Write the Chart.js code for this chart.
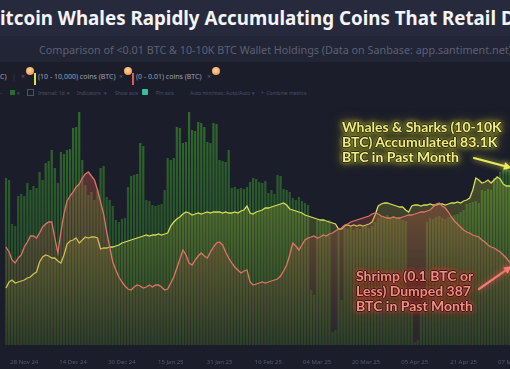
<!DOCTYPE html>
<html><head><meta charset="utf-8">
<script src="https://cdn.jsdelivr.net/npm/chart.js@4"></script>
<style>
html,body{margin:0;padding:0;}
body{width:510px;height:369px;overflow:hidden;position:relative;background:#1b1d2a;font-family:'Noto Sans',sans-serif;}
#band1{position:absolute;left:0;top:0;width:510px;height:36px;background:#272a3d;}
#band2{position:absolute;left:0;top:36px;width:510px;height:26px;background:#222536;}
#title{position:absolute;top:3px;left:0;white-space:nowrap;color:#f4f4f6;font-weight:700;font-size:20px;line-height:30px;}
#subtitle{position:absolute;top:42px;left:39px;white-space:nowrap;color:#5c6174;font-size:11px;line-height:16px;}
.tb{position:absolute;white-space:nowrap;font-size:7px;line-height:9px;color:#9da1b0;}
.tb2{position:absolute;white-space:nowrap;font-size:5px;line-height:8px;color:#4c5163;}
.coin{position:absolute;width:8px;height:8px;border-radius:50%;background:radial-gradient(circle at 45% 40%,#fbd6a4 0%,#f0a860 60%,#d98a40 100%);}
#wrap{position:absolute;left:0;top:100px;width:540px;height:269px;}
.ann{position:absolute;white-space:nowrap;font-family:'Lato',sans-serif;font-weight:700;font-size:14px;line-height:15px;}
#ann1{left:342px;top:119px;color:#f2ee84;text-shadow:1px 0 0 #2e2e12,-1px 0 0 #2e2e12,0 1px 0 #2e2e12,0 -1px 0 #2e2e12,0 0 5px rgba(225,225,70,0.95),0 0 9px rgba(215,215,60,0.8),0 0 14px rgba(200,200,50,0.6);}
#ann2{left:356px;top:268px;color:#f49088;text-shadow:1px 0 0 #3a1612,-1px 0 0 #3a1612,0 1px 0 #3a1612,0 -1px 0 #3a1612,0 0 5px rgba(230,80,70,0.95),0 0 9px rgba(220,70,60,0.8),0 0 14px rgba(200,60,50,0.6);}
</style></head>
<body>
<div id="band1"></div><div id="band2"></div>
<div id="title"><span id="tB">B</span><span id="tMid">itcoin Whales Rapidly Accumulating Coins That Retail </span>Dumps</div>
<div id="subtitle"><span id="sMain">Comparison of &lt;0.01 BTC &amp; 10-10K BTC Wallet Holdings (Data on Sanbase: app.santiment.net</span>)</div>

<div class="tb" style="left:0;top:72px;">C)</div>
<div class="tb" style="left:12px;top:72px;color:#3d4153;">|</div>
<div class="tb" style="left:21px;top:72px;color:#5a5e70;">×</div>
<div class="coin" style="left:26px;top:67px;"></div>
<div style="position:absolute;left:34px;top:73px;width:2px;height:12px;background:#dfe04e;"></div>
<div class="tb" style="left:38px;top:72px;">(10 - 10,000) coins (BTC)</div>
<div class="tb" style="left:110px;top:72px;color:#3d4153;">|</div>
<div class="tb" style="left:119px;top:72px;color:#5a5e70;">×</div>
<div class="coin" style="left:124px;top:67px;"></div>
<div style="position:absolute;left:132px;top:73px;width:2px;height:12px;background:#e05a5a;"></div>
<div class="tb" style="left:136px;top:72px;">(0 - 0.01) coins (BTC)</div>
<div class="tb" style="left:198px;top:72px;color:#3d4153;">|</div>
<div class="tb" style="left:207px;top:72px;color:#5a5e70;">×</div>
<div class="coin" style="left:212px;top:67px;"></div>

<div class="tb2" style="left:0;top:89px;">–</div>
<div style="position:absolute;left:10px;top:90px;width:5px;height:5px;background:#2c6a34;"></div>
<div class="tb2" style="left:17px;top:89px;">▾</div>
<div style="position:absolute;left:27px;top:89px;width:5px;height:5px;border:1px solid #4c5163;"></div>
<div class="tb2" style="left:38px;top:89px;">Interval: 1d</div>
<div class="tb2" style="left:67px;top:89px;">▾</div>
<div class="tb2" style="left:77px;top:89px;">Indicators</div>
<div class="tb2" style="left:104px;top:89px;">▾</div>
<div class="tb2" style="left:115px;top:89px;">Show axis</div>
<div style="position:absolute;left:142px;top:89px;width:6px;height:6px;background:#38c09e;border-radius:1px;"></div>
<div class="tb2" style="left:156px;top:89px;">Pin axis</div>
<div class="tb2" style="left:190px;top:89px;">Auto min/max: Auto/Auto</div>
<div class="tb2" style="left:252px;top:89px;">▾</div>
<div class="tb2" style="left:261px;top:89px;">+&nbsp; Combine metrics</div>

<div id="wrap"><canvas id="c" width="540" height="269"></canvas></div>

<div id="ann1" class="ann">Whales &amp; Sharks (10-10K<br>BTC) Accumulated 83.1K<br>BTC in Past Month</div>
<div id="ann2" class="ann">Shrimp (0.1 BTC or<br>Less) Dumped 387<br>BTC in Past Month</div>

<script>
// ---- data (daily, 22 Nov 2024 -> 08 May 2025); relative units ----
const startDay = '2024-11-22';
const tickLabels = ['28 Nov 24','14 Dec 24','30 Dec 24','15 Jan 25','31 Jan 25','16 Feb 25','04 Mar 25','20 Mar 25','05 Apr 25','21 Apr 25','07 May 25'];

const greenBars = [
167,165,121,119,149,151,149,162,155,159,
157,173,165,182,184,195,177,162,193,191,
195,196,217,218,233,185,160,150,153,145,
155,177,179,148,145,139,125,123,126,127,
158,169,170,171,202,199,145,144,140,139,
140,141,155,187,185,187,218,217,202,203,
233,215,214,223,222,218,203,202,222,221,
185,184,183,195,157,158,156,157,156,158,
163,167,166,163,162,164,152,155,151,170,
169,156,155,153,147,145,148,144,142,140,
55,50,125,124,126,123,125,13,15,117,
45,117,116,118,115,117,116,118,119,117,
119,123,127,129,128,130,127,129,126,128,
125,124,45,40,3,5,35,45,123,127,
126,128,129,127,126,128,129,130,131,133,
135,141,142,143,144,142,155,154,156,155,
167,169,173,175,177,175,174,172];

const whales10to10k = [
57,63,65,62,63,64,65,67,68,71,
73,83,88,90,89,87,87,84,82,90,
101,104,105,107,102,105,108,107,108,108,
107,96,97,97,98,98,99,100,102,103,
104,105,106,107,108,109,110,109,110,110,
111,110,111,112,119,123,126,128,131,133,
132,130,131,132,131,132,133,132,133,133,
133,132,133,132,132,133,132,134,135,139,
132,131,133,134,135,137,137,138,139,140,
141,142,140,136,135,134,133,132,130,129,
128,127,126,125,125,124,123,122,121,116,
116,119,120,119,120,119,120,119,120,121,
123,130,139,141,142,142,141,140,139,138,
138,135,133,139,140,140,139,140,140,141,
140,140,141,141,140,141,142,142,143,142,
144,145,147,155,167,165,162,163,165,162,
165,168,166,161,159,159,158,157];

const shrimp0to001 = [
98,93,85,82,87,90,98,103,109,109,
107,112,118,121,123,123,107,92,113,131,
144,149,153,158,161,167,171,173,169,165,
155,143,131,113,98,83,75,68,63,59,
56,55,58,60,59,57,58,60,58,60,
60,58,55,56,62,68,77,86,95,90,
82,80,85,89,92,89,87,93,98,102,
103,100,93,87,82,78,75,72,74,75,
63,60,61,62,63,62,63,64,65,66,
69,74,80,90,102,99,95,100,105,107,
108,109,107,108,110,109,111,112,114,116,
117,120,121,123,124,125,126,127,128,129,
131,132,131,129,128,127,127,128,127,127,
128,129,130,130,131,132,133,133,134,135,
138,141,142,139,137,133,128,124,121,118,
115,113,112,110,109,108,105,103,100,98,
97,95,93,90,87,83,79,76];

// ---- categories ----
const monthNames = ['Jan','Feb','Mar','Apr','May','Jun','Jul','Aug','Sep','Oct','Nov','Dec'];
const days = [];
{
  const t0 = Date.parse(startDay + 'T00:00:00Z');
  for (let i = 0; i < greenBars.length; i++) {
    const d = new Date(t0 + i * 86400000);
    days.push(String(d.getUTCDate()).padStart(2,'0') + ' ' + monthNames[d.getUTCMonth()] + ' ' + String(d.getUTCFullYear()).slice(2));
  }
}

// ---- text fitting (layout only) ----
function fitWidth(el, span, target){
  el.style.fontSize = '100px';
  const w = span.getBoundingClientRect().width;
  el.style.fontSize = (100 * target / w) + 'px';
}
const title = document.getElementById('title');
fitWidth(title, document.getElementById('tMid'), 501);
title.style.left = (-document.getElementById('tB').getBoundingClientRect().width) + 'px';
fitWidth(document.getElementById('subtitle'), document.getElementById('sMain'), 470);

function vgrad(ctx, stops){
  const chart = ctx.chart, a = chart.chartArea;
  if (!a) return stops[0][1];
  const g = chart.ctx.createLinearGradient(0, a.top, 0, a.bottom);
  stops.forEach(s => g.addColorStop(s[0], s[1]));
  return g;
}

function drawArrow(c, x1, y1, x2, y2, col, glow){
  const ang = Math.atan2(y2 - y1, x2 - x1), L = 9;
  c.save();
  c.strokeStyle = col; c.fillStyle = col; c.lineWidth = 2.2; c.lineCap = 'round';
  c.shadowColor = glow; c.shadowBlur = 6;
  c.beginPath(); c.moveTo(x1, y1); c.lineTo(x2 - Math.cos(ang) * 6, y2 - Math.sin(ang) * 6); c.stroke();
  c.beginPath(); c.moveTo(x2, y2);
  c.lineTo(x2 - L * Math.cos(ang - 0.45), y2 - L * Math.sin(ang - 0.45));
  c.lineTo(x2 - L * Math.cos(ang + 0.45), y2 - L * Math.sin(ang + 0.45));
  c.closePath(); c.fill();
  c.restore();
}
const arrows = { id: 'arrows', afterDraw(chart){
  const c = chart.ctx;
  drawArrow(c, 474, 58, 512, 68, '#ecec5a', 'rgba(235,235,80,0.95)');
  drawArrow(c, 479, 189, 512, 166, '#f47c72', 'rgba(235,80,70,0.95)');
}};

new Chart(document.getElementById('c'), {
  data: {
    labels: days,
    datasets: [
      { type: 'line', label: '(0 - 0.01) coins (BTC)', data: shrimp0to001, yAxisID: 'y2', order: 1,
        borderColor: '#de7468', borderWidth: 1.3, pointRadius: 0, tension: 0, fill: 'origin',
        backgroundColor: ctx => vgrad(ctx, [[0,'rgba(215,95,80,0.5)'],[0.45,'rgba(195,88,70,0.3)'],[1,'rgba(160,75,60,0.05)']]) },
      { type: 'line', label: '(10 - 10,000) coins (BTC)', data: whales10to10k, yAxisID: 'y1', order: 2,
        borderColor: '#d4dc5a', borderWidth: 1.3, pointRadius: 0, tension: 0, fill: 'origin',
        backgroundColor: ctx => vgrad(ctx, [[0,'rgba(185,195,60,0.45)'],[0.45,'rgba(160,170,50,0.28)'],[1,'rgba(130,140,40,0.05)']]) },
      { type: 'bar', label: 'volume', data: greenBars, yAxisID: 'y', order: 3,
        barPercentage: 0.72, categoryPercentage: 1.0, borderWidth: 0,
        backgroundColor: ctx => vgrad(ctx, [[0,'rgba(52,118,46,0.9)'],[0.5,'rgba(42,92,42,0.9)'],[1,'rgba(32,64,38,0.9)']]) }
    ]
  },
  options: {
    responsive: false, animation: false,
    layout: { padding: { left: 0, right: 23, top: 0, bottom: 0 } },
    plugins: { legend: { display: false }, tooltip: { enabled: false } },
    scales: {
      x: { offset: true, grid: { display: false }, border: { display: false },
           ticks: { autoSkip: false, maxRotation: 0, minRotation: 0, padding: 6, color: '#555a6d',
                    font: { size: 6, family: 'Noto Sans' },
                    callback: function(v){ const l = this.getLabelForValue(v); return tickLabels.includes(l) ? l : ''; } },
           afterFit: s => { s.height = 24; } },
      y:  { display: false, min: 0, max: 245 },
      y1: { display: false, min: 0, max: 245 },
      y2: { display: false, min: 0, max: 245 }
    }
  },
  plugins: [arrows]
});
</script>
</body></html>
